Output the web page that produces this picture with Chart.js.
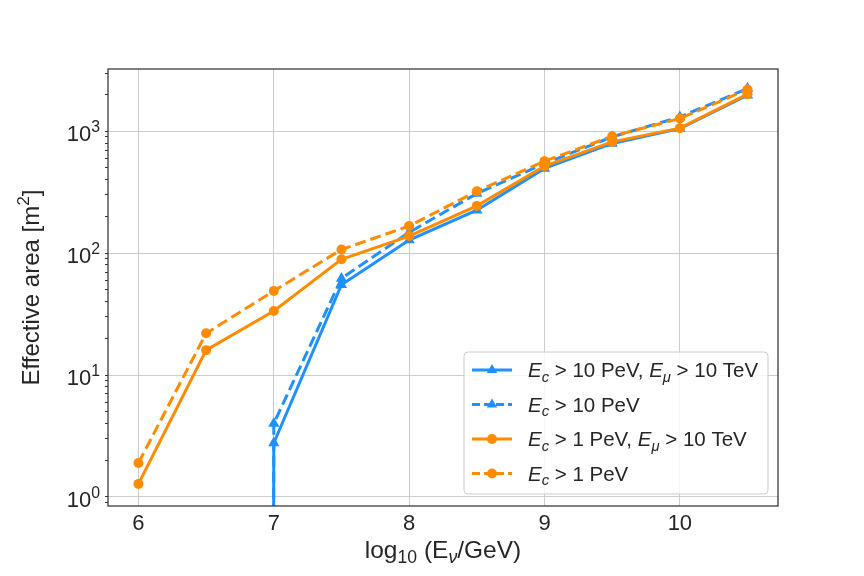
<!DOCTYPE html>
<html>
<head>
<meta charset="utf-8">
<script src="https://cdn.jsdelivr.net/npm/chart.js@4.4.1/dist/chart.umd.min.js"></script>
<style>
  body { margin: 0; background: #fff; }
  #wrap { width: 864px; height: 576px; }
</style>
</head>
<body>
<div id="wrap"><canvas id="myChart" width="864" height="576"></canvas></div>
<script>
  // data (0 = no events, clipped like matplotlib's log axis)
  var logE = [6, 6.5, 7, 7.5, 8, 8.5, 9, 9.5, 10, 10.5];
  var aeffC10Mu10 = [0, 0, 2.77, 55, 128, 225, 495, 793, 1052, 1973];
  var aeffC10 = [0, 0, 4.0, 62, 148, 308, 543, 898, 1309, 2237];
  var aeffC1Mu10 = [1.28, 16, 33.5, 89, 138, 244, 517, 817, 1059, 2010];
  var aeffC1 = [1.9, 22, 49, 107, 167, 322, 568, 910, 1270, 2197];

  var xTickValues = [6, 7, 8, 9, 10];
  var yMajorExp = [0, 1, 2, 3];

  var blue = '#1E90FF';
  var orange = '#FF8C00';
  var textColor = '#262626';
  var fontFamily = '"Liberation Sans", Arial, sans-serif';

  function points(vals) {
    // zeros can't sit on a log axis, push them far below like matplotlib's clip
    return vals.map(function(v, i) {
      return { x: logE[i], y: v > 0 ? v : 1e-300 };
    });
  }

  var datasets = [
    { label: 'Ec>10PeV,Emu>10TeV', data: points(aeffC10Mu10), borderColor: blue, backgroundColor: blue,
      borderDash: [], pointStyle: 'triangle', pointRadius: 6.5, order: 3,
      legend: [['E', 'i'], ['c', 'is'], [' > 10 PeV, ', ''], ['E', 'i'], ['\u03bc', 'is'], [' > 10 TeV', '']] },
    { label: 'Ec>10PeV', data: points(aeffC10), borderColor: blue, backgroundColor: blue,
      borderDash: [11, 5], pointStyle: 'triangle', pointRadius: 6.5, order: 2,
      legend: [['E', 'i'], ['c', 'is'], [' > 10 PeV', '']] },
    { label: 'Ec>1PeV,Emu>10TeV', data: points(aeffC1Mu10), borderColor: orange, backgroundColor: orange,
      borderDash: [], pointStyle: 'circle', pointRadius: 5, order: 1,
      legend: [['E', 'i'], ['c', 'is'], [' > 1 PeV, ', ''], ['E', 'i'], ['\u03bc', 'is'], [' > 10 TeV', '']] },
    { label: 'Ec>1PeV', data: points(aeffC1), borderColor: orange, backgroundColor: orange,
      borderDash: [11, 5], pointStyle: 'circle', pointRadius: 5, order: 0,
      legend: [['E', 'i'], ['c', 'is'], [' > 1 PeV', '']] }
  ];

  datasets.forEach(function(d) {
    d.borderWidth = 3;
    d.pointBorderWidth = 0;
    d.pointHoverRadius = d.pointRadius;
    d.tension = 0;
  });

  // draws a run of text pieces: flags 'i' italic, 's' subscript, 'p' superscript
  function richWidth(ctx, parts, size) {
    var w = 0;
    parts.forEach(function(p) {
      var small = p[1].indexOf('s') >= 0 || p[1].indexOf('p') >= 0;
      ctx.font = (p[1].indexOf('i') >= 0 ? 'italic ' : '') + (small ? size * 0.72 : size) + 'px ' + fontFamily;
      w += ctx.measureText(p[0]).width;
    });
    return w;
  }

  function drawRich(ctx, parts, x, y, size) {
    ctx.textBaseline = 'alphabetic';
    ctx.textAlign = 'left';
    parts.forEach(function(p) {
      var sub = p[1].indexOf('s') >= 0, sup = p[1].indexOf('p') >= 0;
      var fs = (sub || sup) ? size * 0.72 : size;
      ctx.font = (p[1].indexOf('i') >= 0 ? 'italic ' : '') + fs + 'px ' + fontFamily;
      var dy = sub ? size * 0.22 : (sup ? -size * 0.42 : 0);
      ctx.fillText(p[0], x, y + dy);
      x += ctx.measureText(p[0]).width;
    });
    return x;
  }

  var extras = {
    id: 'extras',
    afterDatasetsDraw: function(chart) {
      var ctx = chart.ctx;
      var a = chart.chartArea;
      var ys = chart.scales.y;
      ctx.save();

      // frame on all four sides
      ctx.strokeStyle = '#333333';
      ctx.lineWidth = 1.25;
      ctx.strokeRect(a.left, a.top, a.right - a.left, a.bottom - a.top);

      // y tick labels 10^n
      ctx.fillStyle = textColor;
      yMajorExp.forEach(function(e) {
        var py = ys.getPixelForValue(Math.pow(10, e));
        var parts = [['10', ''], [String(e), 'p']];
        var w = richWidth(ctx, parts, 22);
        drawRich(ctx, parts, a.left - 8 - w, py + 10, 22);
      });

      // x axis title
      var xt = [['log', ''], ['10', 's'], [' (E', ''], ['\u03bd', 'is'], ['/GeV)', '']];
      var xw = richWidth(ctx, xt, 24.5);
      drawRich(ctx, xt, (a.left + a.right) / 2 - xw / 2, 558, 24.5);

      // y axis title
      var yt = [['Effective area [m', ''], ['2', 'p'], [']', '']];
      var yw = richWidth(ctx, yt, 24);
      ctx.save();
      ctx.translate(39, (a.top + a.bottom) / 2);
      ctx.rotate(-Math.PI / 2);
      drawRich(ctx, yt, -yw / 2, 0, 24);
      ctx.restore();

      // legend box
      var bx = 464, by = 352, bw = 304, bh = 142;
      ctx.beginPath();
      ctx.roundRect(bx, by, bw, bh, 4);
      ctx.fillStyle = 'rgba(255,255,255,0.8)';
      ctx.fill();
      ctx.strokeStyle = '#cccccc';
      ctx.lineWidth = 1;
      ctx.stroke();

      datasets.forEach(function(d, i) {
        var cy = 370 + i * 34.5;
        ctx.strokeStyle = d.borderColor;
        ctx.lineWidth = 3;
        ctx.setLineDash(d.borderDash.length ? [8, 4] : []);
        ctx.beginPath();
        ctx.moveTo(472, cy);
        ctx.lineTo(512, cy);
        ctx.stroke();
        ctx.setLineDash([]);
        ctx.fillStyle = d.backgroundColor;
        Chart.helpers.drawPoint(ctx, {
          pointStyle: d.pointStyle, radius: d.pointStyle === 'triangle' ? 6 : 5,
          rotation: 0, borderWidth: 0
        }, 492, cy);
        ctx.fillStyle = textColor;
        drawRich(ctx, d.legend, 528, cy + 7, 20.5);
      });

      ctx.restore();
    }
  };

  var config = {
    type: 'line',
    data: { datasets: datasets },
    options: {
      responsive: false,
      animation: false,
      events: [],
      layout: { padding: { left: 0, right: 86, top: 69, bottom: 0 } },
      plugins: { legend: { display: false }, tooltip: { enabled: false } },
      scales: {
        x: {
          type: 'linear',
          min: 5.775,
          max: 10.725,
          afterBuildTicks: function(scale) {
            scale.ticks = xTickValues.map(function(v) { return { value: v }; });
          },
          afterFit: function(scale) { scale.height = 70; },
          border: { display: false },
          grid: { color: '#cccccc', lineWidth: 1, drawTicks: false },
          ticks: {
            padding: 5,
            color: textColor,
            font: { family: fontFamily, size: 22 },
            callback: function(v) { return String(v); }
          }
        },
        y: {
          type: 'logarithmic',
          min: Math.pow(10, -0.074),
          max: Math.pow(10, 3.51),
          afterBuildTicks: function(scale) {
            var t = [];
            for (var e = -1; e <= 3; e++) {
              for (var k = 1; k <= 9; k++) {
                var v = k * Math.pow(10, e);
                if (v >= scale.min && v <= scale.max) t.push({ value: v, major: k === 1 });
              }
            }
            scale.ticks = t;
          },
          afterFit: function(scale) { scale.width = 108; },
          border: { display: false },
          grid: {
            color: function(c) { return c.tick && c.tick.major ? '#cccccc' : 'rgba(0,0,0,0)'; },
            lineWidth: 1,
            drawTicks: true,
            tickLength: 3,
            tickColor: '#333333'
          },
          ticks: { display: false }
        }
      }
    },
    plugins: [extras]
  };

  var myChart = new Chart(document.getElementById('myChart'), config);
</script>
</body>
</html>
